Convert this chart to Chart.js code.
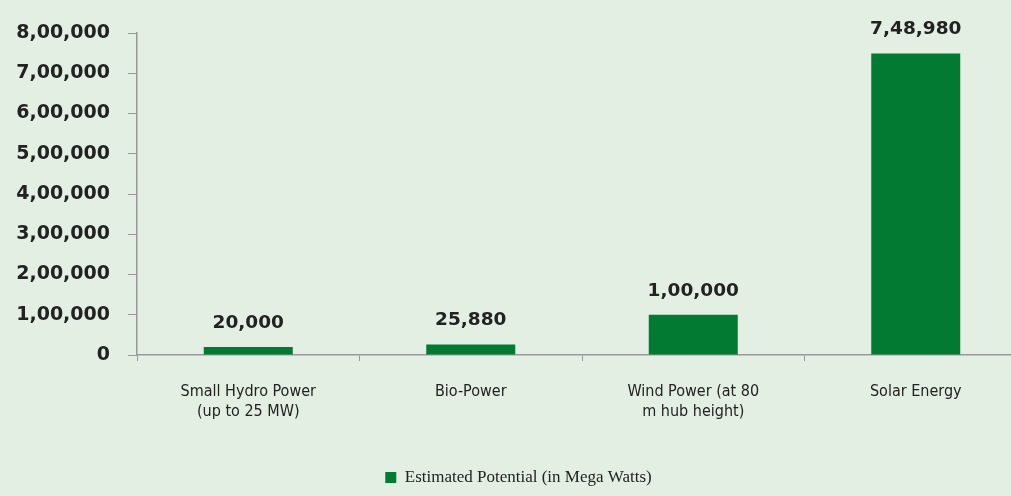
<!DOCTYPE html>
<html>
<head>
<meta charset="utf-8">
<script src="https://cdn.jsdelivr.net/npm/chart.js@4"></script>
<style>
  html, body { margin: 0; padding: 0; background: #e3efe2; overflow: hidden; }
  #wrap { width: 1027px; height: 496px; position: relative; }
</style>
</head>
<body>
<div id="wrap"><canvas id="potChart"></canvas></div>
<script>
const categories = [
    ['Small Hydro Power', '(up to 25 MW)'],
    ['Bio-Power'],
    ['Wind Power (at 80', 'm hub height)'],
    ['Solar Energy']
];
const potentialMW = [20000, 25880, 100000, 748980];
const seriesName = 'Estimated Potential (in Mega Watts)';
const yMax = 800000;
const yStep = 100000;

// Indian digit grouping: 7,48,980
function fmtIN(v) {
    const s = String(Math.round(v));
    if (s.length <= 3) return s;
    const last3 = s.slice(-3);
    let rest = s.slice(0, -3);
    const parts = [];
    while (rest.length > 2) {
        parts.unshift(rest.slice(-2));
        rest = rest.slice(0, -2);
    }
    if (rest) parts.unshift(rest);
    return parts.join(',') + ',' + last3;
}

const valueLabels = {
    id: 'valueLabels',
    afterDatasetsDraw(chart) {
        const ctx = chart.ctx;
        const meta = chart.getDatasetMeta(0);
        ctx.save();
        ctx.font = 'bold 18.5px "DejaVu Sans"';
        ctx.fillStyle = '#222';
        ctx.textAlign = 'center';
        ctx.textBaseline = 'middle';
        meta.data.forEach((bar, i) => {
            ctx.fillText(fmtIN(potentialMW[i]), bar.x, bar.y - 24);
        });
        ctx.restore();
    }
};

new Chart(document.getElementById('potChart'), {
    type: 'bar',
    data: {
        labels: categories,
        datasets: [{
            label: seriesName,
            data: potentialMW,
            backgroundColor: '#037a31',
            categoryPercentage: 1,
            barPercentage: 0.4
        }]
    },
    options: {
        responsive: true,
        maintainAspectRatio: false,
        animation: false,
        layout: { padding: { left: 10, top: 33, right: 0, bottom: 0 } },
        plugins: {
            tooltip: { enabled: false },
            legend: {
                position: 'bottom',
                labels: {
                    boxWidth: 11,
                    boxHeight: 11,
                    padding: 22,
                    color: '#222',
                    font: { family: '"Liberation Serif"', size: 17 }
                }
            }
        },
        scales: {
            x: {
                grid: {
                    offset: true,
                    drawOnChartArea: false,
                    tickLength: 6,
                    color: '#999'
                },
                border: { color: '#999', width: 1.5 },
                ticks: {
                    color: '#222',
                    padding: 21,
                    maxRotation: 0,
                    font: { family: '"DejaVu Sans Condensed"', size: 16, lineHeight: 1.25 }
                },
                afterFit(scale) { scale.height += 4; }
            },
            y: {
                min: 0,
                max: yMax,
                grid: {
                    drawOnChartArea: false,
                    tickLength: 9,
                    color: '#999'
                },
                border: { color: '#999', width: 1.5 },
                ticks: {
                    stepSize: yStep,
                    color: '#222',
                    padding: 18,
                    font: { family: '"DejaVu Sans"', size: 19, weight: 'bold' },
                    callback: v => fmtIN(v)
                },
                afterFit(scale) { scale.width = 127; }
            }
        }
    },
    plugins: [valueLabels]
});
</script>
</body>
</html>
